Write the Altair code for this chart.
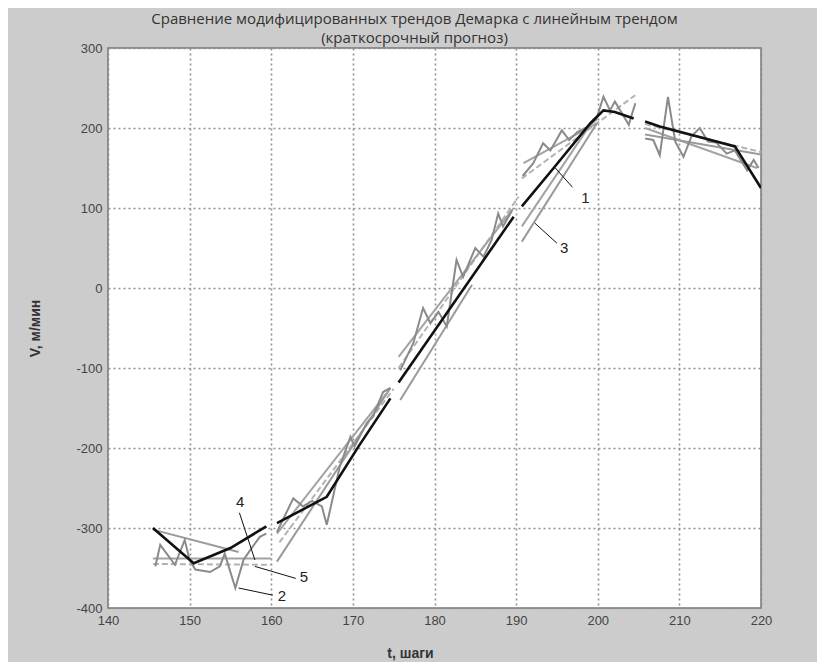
import altair as alt
import pandas as pd

# ---------------- data ----------------
# series 2: observed values, one piece per 15-step window
raw_t = [
    [145.8, 146.4, 148.2, 149.4, 150.0, 150.7, 152.5, 153.7, 154.3, 155.6, 156.6, 157.4, 158.6, 159.4],
    [160.7, 162.7, 163.9, 165.0, 166.2, 166.8, 168.4, 169.7, 170.2, 171.7, 172.5, 173.7, 174.6],
    [175.8, 177.4, 178.6, 179.5, 180.5, 181.5, 182.7, 183.5, 185.0, 186.0, 187.0, 187.8, 188.4, 189.5],
    [190.8, 192.1, 193.3, 194.2, 195.6, 196.5, 197.5, 198.5, 199.8, 200.7, 201.5, 202.1, 203.8, 204.6],
    [205.8, 206.8, 207.6, 208.6, 209.5, 210.5, 211.5, 212.5, 213.5, 214.5, 215.8, 216.8, 218.3, 219.1, 219.7],
]
raw_v = [
    [-348, -321, -346, -315, -340, -352, -355, -348, -332, -375, -340, -328, -311, -307],
    [-305, -263, -273, -266, -273, -296, -223, -186, -198, -169, -160, -130, -125],
    [-103, -69, -25, -44, -30, -48, 35, 14, 50, 39, 60, 93, 77, 97],
    [140, 156, 181, 172, 197, 185, 195, 200, 210, 239, 222, 233, 204, 231],
    [187, 185, 166, 239, 183, 164, 190, 200, 183, 182, 168, 172, 147, 160, 150],
]

# series 1: modified Demark trend (black)
dem_t = [
    [145.5, 150.5, 155.0, 159.4],
    [160.7, 166.8, 170.7, 174.6],
    [175.6, 189.7],
    [190.7, 194.6, 199.1, 200.7, 202.1, 204.4],
    [205.8, 207.6, 216.8, 220.0],
]
dem_v = [
    [-300, -344, -325, -298],
    [-294, -261, -198, -138],
    [-118, 89],
    [102, 150, 206, 222, 220, 212],
    [208, 202, 177, 125],
]

# series 3: linear trend (gray), start/end per window
lin_t = [[145.5, 156.0], [160.7, 174.6], [175.8, 184.6], [190.7, 199.9], [205.8, 220.0]]
lin_v = [[-302, -330], [-342, -125], [-140, 4], [58, 206], [192, 167]]

# series 4: modified trend (gray solid)
mod4_t = [[145.5, 160.0], [160.7, 174.1], [175.6, 189.7], [190.7, 199.6], [190.9, 199.9], [205.8, 219.5]]
mod4_v = [[-338, -338], [-307, -132], [-86, 100], [77, 212], [156, 206], [200, 150]]

# series 5: modified trend (gray dashed)
mod5_t = [[145.5, 160.0], [161.0, 175.0], [175.6, 190.3], [190.7, 204.6], [205.8, 220.0]]
mod5_v = [[-345, -346], [-318, -126], [-100, 114], [137, 241], [205, 170]]

# call-out labels and their leader lines
lab_text = ["1", "3", "4", "5", "2"]
lab_t = [198.5, 195.9, 156.2, 164.0, 161.3]
lab_v = [112, 50, -268, -361, -385]
lead_t1 = [194.8, 192.3, 156.1, 158.0, 156.0]
lead_v1 = [150, 81, -281, -348, -375]
lead_t2 = [196.9, 195.0, 158.0, 163.0, 160.2]
lead_v2 = [126, 56, -340, -363, -384]

title_lines = ["Сравнение модифицированных трендов Демарка с линейным трендом",
               "(краткосрочный прогноз)"]
x_ticks = list(range(140, 221, 10))
y_ticks = list(range(-400, 301, 100))


def long_table(ts, vs, name):
    rows = []
    for k, (tt, vv) in enumerate(zip(ts, vs)):
        for t, v in zip(tt, vv):
            rows.append({"t": t, "v": v, "seg": f"{name}-{k}"})
    return pd.DataFrame(rows)


raw_df = long_table(raw_t, raw_v, "raw")
dem_df = long_table(dem_t, dem_v, "dem")
lin_df = long_table(lin_t, lin_v, "lin")
m4_df = long_table(mod4_t, mod4_v, "m4")
m5_df = long_table(mod5_t, mod5_v, "m5")
lab_df = pd.DataFrame({"t": lab_t, "v": lab_v, "txt": lab_text})
lead_df = pd.DataFrame({"t": lead_t1, "v": lead_v1, "t2": lead_t2, "v2": lead_v2})

xs = alt.Scale(domain=[140, 220], nice=False, zero=False)
ys = alt.Scale(domain=[-400, 300], nice=False, zero=False)

axis_common = dict(
    grid=True, gridColor="#8f8f8f", gridDash=[2, 3], gridWidth=1.6, gridOpacity=1,
    domain=False, ticks=False, labelFont="Liberation Sans", labelFontSize=13,
    labelColor="#444444", labelFlush=False, labelOverlap=False,
    labelExpr="toString(datum.value)",
    titleFont="Liberation Sans", titleFontSize=14, titleFontWeight="bold",
    titleColor="#333333",
)

X = alt.X("t:Q", scale=xs,
          axis=alt.Axis(values=x_ticks, title="t, шаги", labelPadding=6,
                        titleX=302, titleY=45, titleBaseline="middle",
                        titleAnchor="middle", **axis_common))
Y = alt.Y("v:Q", scale=ys,
          axis=alt.Axis(values=y_ticks, title="V, м/мин", labelPadding=6,
                        titleX=-73, titleY=280, titleBaseline="middle",
                        titleAnchor="middle", **axis_common))


def lines(df, color, width, dash=None):
    kw = dict(color=color, strokeWidth=width, clip=True)
    if dash:
        kw["strokeDash"] = dash
    return alt.Chart(df).mark_line(**kw).encode(x=X, y=Y, detail="seg:N", order="t:Q")


layer_m5 = lines(m5_df, "#b3b3b3", 2, [6, 3])
layer_m4 = lines(m4_df, "#a3a3a3", 2)
layer_lin = lines(lin_df, "#9a9a9a", 2)
layer_raw = lines(raw_df, "#8a8a8a", 2)
layer_dem = lines(dem_df, "#111111", 2.6)

leaders = alt.Chart(lead_df).mark_rule(color="#111111", strokeWidth=1).encode(
    x=X, y=Y, x2="t2:Q", y2="v2:Q")
labels = alt.Chart(lab_df).mark_text(
    font="Liberation Sans", fontSize=15, color="#222222", align="center",
    baseline="middle").encode(x=X, y=Y, text="txt:N")

chart = alt.layer(layer_m5, layer_m4, layer_lin, layer_raw, layer_dem, leaders, labels).properties(
    width=653, height=560,
    title=alt.TitleParams(text=title_lines, font="Open Sans", fontSize=15,
                          fontWeight="normal", color="#333333", anchor="middle",
                          dx=-20, offset=-4, lineHeight=19),
    background="#cccccc",
    padding={"left": 100, "top": 40, "right": 56, "bottom": 54},
    autosize=alt.AutoSizeParams(type="none"),
).configure_view(stroke="#777777", strokeWidth=1.5, fill="white")

chart.save("out.html", embed_options={"renderer": "svg", "actions": False})
